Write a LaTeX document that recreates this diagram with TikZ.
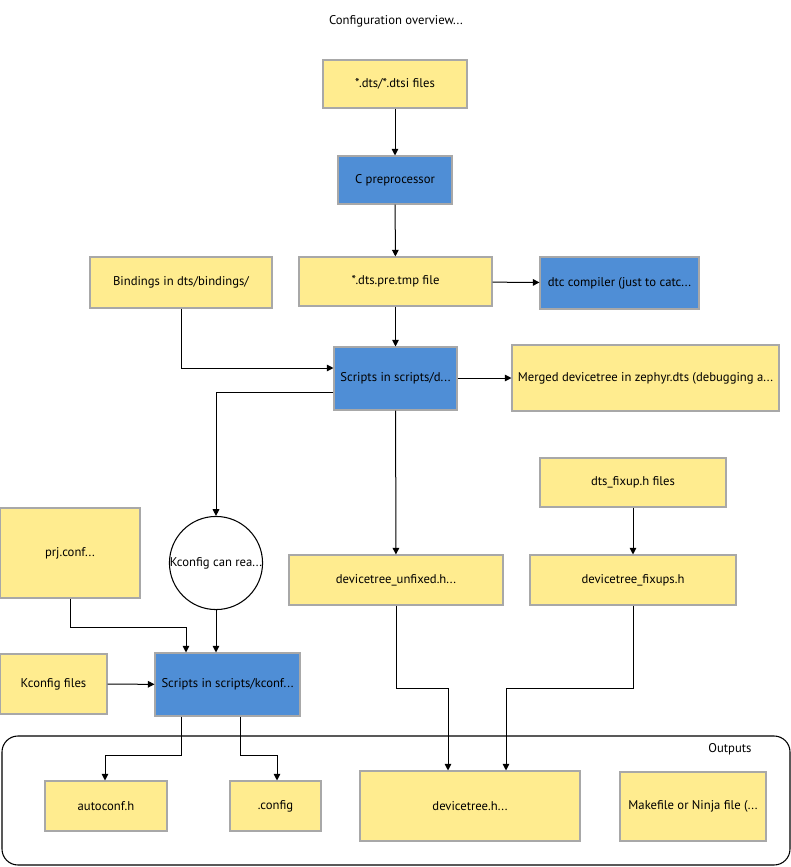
\documentclass[tikz,border=0pt]{standalone}
\usepackage{fontspec}
\setmainfont{PT Sans}
\usetikzlibrary{arrows.meta}
\definecolor{yel}{HTML}{FFEC8F}
\definecolor{blu}{HTML}{4F8ED6}
\definecolor{bord}{HTML}{A8A8A8}
\begin{document}
\begin{tikzpicture}[x=0.75pt,y=-0.75pt,
  box/.style={draw=bord,line width=0.8pt,inner sep=0pt,font=\fontsize{9.5}{11}\selectfont},
  ybox/.style={box,fill=yel},
  bbox/.style={box,fill=blu},
  arr/.style={-{Triangle[length=5pt,width=5pt]},line width=0.75pt}]
\useasboundingbox (0,0) rectangle (791,867);
\def\bx#1#2#3#4#5#6#7{\node[#2,minimum width={(#5-#3)*0.75pt},minimum height={(#6-#4)*0.75pt}] (#1) at ({(#3+#5)/2},{(#4+#6)/2}) {#7};}
\node[font=\fontsize{9.5}{11}\selectfont] (title) at (396,21) {Configuration overview...};
\draw[rounded corners=12pt,line width=0.8pt] (2,736) rectangle (790,865);
\node[font=\fontsize{9.5}{11}\selectfont] (out) at (730,749) {Outputs};
\bx{dts}{ybox}{323}{60}{467}{108}{*.dts/*.dtsi files}
\bx{cpp}{bbox}{338}{156}{452}{204}{C preprocessor}
\bx{pre}{ybox}{299}{257}{492}{306}{*.dts.pre.tmp file}
\bx{dtc}{bbox}{540}{257}{699}{309}{dtc compiler (just to catc...}
\bx{bind}{ybox}{90}{257}{272}{308}{Bindings in dts/bindings/}
\bx{sd}{bbox}{334}{347}{457}{410}{Scripts in scripts/d...}
\bx{merged}{ybox}{512}{345}{779}{411}{Merged devicetree in zephyr.dts (debugging a...}
\bx{fix}{ybox}{540}{458}{726}{507}{dts\_fixup.h files}
\node[draw,circle,fill=white,line width=0.8pt,minimum size=69pt,inner sep=0pt,font=\fontsize{9.5}{11}\selectfont] (kc) at (216,563) {Kconfig can rea...};
\bx{prj}{ybox}{0}{508}{140}{598}{prj.conf...}
\bx{unf}{ybox}{289}{555}{503}{605}{devicetree\_unfixed.h...}
\bx{fxs}{ybox}{530}{555}{736}{605}{devicetree\_fixups.h}
\bx{kf}{ybox}{0}{654}{107}{714}{Kconfig files}
\bx{sk}{bbox}{155}{653}{300}{716}{Scripts in scripts/kconf...}
\bx{auto}{ybox}{45}{781}{167}{831}{autoconf.h}
\bx{cfg}{ybox}{230}{781}{321}{831}{.config}
\bx{dth}{ybox}{360}{771}{580}{841}{devicetree.h...}
\bx{mk}{ybox}{620}{772}{766}{841}{Makefile or Ninja file (...}
\draw[arr] (dts) -- (cpp);
\draw[arr] (cpp) -- (pre);
\draw[arr] (pre) -- (dtc);
\draw[arr] (pre) -- (sd);
\draw[arr] (bind.south) |- (sd.west |- 0,368);
\draw[arr] (sd.east |- 0,378) -- (merged.west |- 0,378);
\draw[arr] (sd.west |- 0,392) -| (kc.north);
\draw[arr] (sd) -- (unf);
\draw[arr] (fix.south -| 633,0) -- (fxs.north -| 633,0);
\draw[arr] (prj.south -| 70,0) |- (186,627) -- (sk.north -| 186,0);
\draw[arr] (kc) -- (sk.north -| kc.south);
\draw[arr] (kf) -- (sk);
\draw[arr] (sk.south -| 181,0) |- (105,755) -- (auto.north -| 105,0);
\draw[arr] (sk.south -| 240,0) |- (277,755) -- (cfg.north -| 277,0);
\draw[arr] (unf.south) |- (448,688) -- (dth.north -| 448,0);
\draw[arr] (fxs.south -| 633,0) |- (506,688) -- (dth.north -| 506,0);
\end{tikzpicture}
\end{document}
